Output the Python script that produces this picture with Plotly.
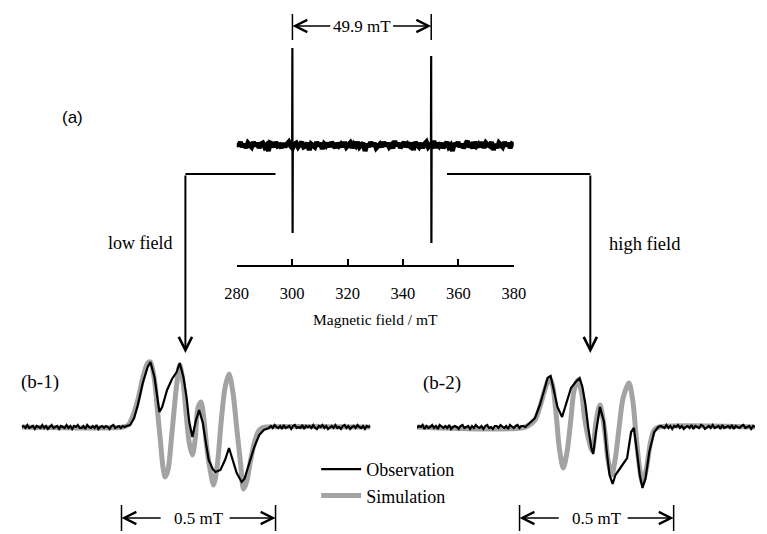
import numpy as np
import plotly.graph_objects as go

W, H = 767, 534
SERIF = "Liberation Serif, Times New Roman, serif"
SANS = "Liberation Sans, Arial, sans-serif"

# ---------------- data ----------------
# (a) full-field spectrum, field in mT, intensity in a.u.
a_field_start, a_field_end = 280, 380
a_noise = [2, -1, 3, -2, 1, -3, 2, 0, -2, 3,
           -1, 2, -3, 1, 2, -2, 0, -6, 2, 1,
           -2, 3, -1, 0, -3, 2, -2, 1, 3, -1,
           -3, 1, 2, -2, 0, 3, -2, -1, 2, -5,
           1, 0, -2, 3, -1, 2, -4, 1, -1, 2,
           -2, 3, 0, -3, 2, -1, 1, -2, 3, -2,
           0, 2, -3, 1, -1, 3, -2, 0, 2, -6,
           1, -2, 3, -1, 2, -3, 0, 1, -2, 3,
           -1, 2, -2, 0, -3, 4, -1, 2, -3, 1,
           3, -2, 1, -1, 2, -5, 3, 0, -2, 2,
           -3, 1, 3, -2, 0, -1, 4, -3, 2, -1,
           2, -3, 1, 3, -2, 0, -6, 2, -1, 3,
           -2, 1, -3, 2, 4, -2, 0, -3, 3, -1,
           1, -2, 3, -3, 2, 0, -1, 3, -5, 1,
           -3, 2, 0, -2, 3, -1, 2, -3, 1, 0]
a_low_line_x = [300.0, 300.08, 300.16, 300.24]
a_low_line_y = [0, 97, -88, 0]
a_high_line_x = [350.1, 350.18, 350.26, 350.34]
a_high_line_y = [0, 89, -98, 0]
a_ticks = [280, 300, 320, 340, 360, 380]
a_split_low, a_split_high = 300.1, 350.2   # 49.9 mT

# (b-1) low-field line, relative field in mT
b1_range = [-0.324, 0.808]
b1_left_end, b1_right_start = 0.010, 0.485
b1_obs_left_noise = [0, 1, -1, 2, -1, 0, 1, -2, 1, 0,
                     -1, 2, -1, 1, -2, 0, 2, -1, 0, 1,
                     -2, 1, 0, -1, 2, -1, 1, -2, 1, 0,
                     2, -1, -1, 1, -2, 2, 0, -1, 1, -1,
                     2, -2, 0, 1, -1, 1, 0, -2, 1, 2,
                     -1, 0, 1, -1, 1, 0]
b1_obs_x = [0.016, 0.028, 0.041, 0.053, 0.069, 0.085, 0.094, 0.107, 0.116, 0.123,
            0.132, 0.148, 0.164, 0.179, 0.189, 0.201, 0.211, 0.220, 0.230, 0.242,
            0.252, 0.264, 0.274, 0.283, 0.296, 0.305, 0.321, 0.336, 0.349, 0.362,
            0.374, 0.390, 0.399, 0.415, 0.431, 0.447, 0.462, 0.478]
b1_obs_y = [1, 2, 9, 22, 44, 60, 65, 50, 27, 15,
            20, 37, 48, 55, 64, 50, 30, 5, -10, 7,
            17, 4, -16, -33, -42, -45, -43, -33, -21, -33,
            -46, -55, -52, -36, -20, -8, -3, -1]
b1_obs_right_noise = [1, -1, 2, 0, -1, 1, -2, 2, -1, 0,
                      1, -2, 1, 2, -1, 0, -1, 2, -2, 1,
                      0, 1, -1, 2, -1, -2, 1, 0, 2, -1,
                      1, -2, 0, 1, -1, 2, -1, 0, -2, 1,
                      2, -1, 1, -2, 0, 1, -1, 2, 0, -1,
                      1, -2, 1, 0, 1]
b1_sim_x = [-0.324, 0.006, 0.022, 0.038, 0.053, 0.069, 0.085, 0.094, 0.107, 0.116,
            0.126, 0.135, 0.142, 0.151, 0.164, 0.179, 0.189, 0.201, 0.211, 0.220,
            0.230, 0.239, 0.248, 0.258, 0.267, 0.277, 0.289, 0.299, 0.311, 0.324,
            0.336, 0.349, 0.362, 0.374, 0.387, 0.396, 0.406, 0.418, 0.431, 0.443,
            0.456, 0.469, 0.808]
b1_sim_y = [0, 0, 2, 12, 27, 49, 64, 65, 47, 19,
            -13, -41, -50, -43, -5, 42, 62, 42, 9, -16,
            -28, -13, 19, 25, 9, -21, -45, -58, -38, 7,
            39, 53, 34, -1, -38, -62, -55, -35, -16, -5,
            -1, 0, 0]

# (b-2) high-field line, relative field in mT
b2_range = [-0.333, 0.764]
b2_left_end, b2_right_start = 0.012, 0.458
b2_obs_left_noise = [-1, 1, 0, 2, -2, 1, -1, 0, 2, -1,
                     1, -2, 2, 0, -1, 1, -1, 2, -2, 0,
                     1, 0, -2, 1, 2, -1, 0, 1, -2, 1,
                     -1, 2, 0, -1, 1, -2, 1, 2, -1, 0,
                     -2, 1, 1, -1, 2, 0, -1, 1, -2, 2,
                     0, -1, 1, 2, -1, 1, 1]
b2_obs_x = [0.019, 0.050, 0.066, 0.082, 0.091, 0.101, 0.110, 0.123, 0.138, 0.151,
            0.167, 0.182, 0.195, 0.204, 0.214, 0.223, 0.233, 0.239, 0.248, 0.261,
            0.274, 0.283, 0.292, 0.302, 0.311, 0.327, 0.349, 0.362, 0.371, 0.381,
            0.390, 0.399, 0.409, 0.421, 0.437, 0.450]
b2_obs_y = [0, 9, 22, 39, 49, 51, 39, 20, 10, 22,
            39, 45, 49, 40, 22, -1, -21, -27, -5, 20,
            5, -25, -48, -57, -48, -41, -31, -5, -1, -25,
            -48, -61, -51, -25, -5, 0]
b2_obs_right_noise = [1, 0, -1, 2, -1, 1, -2, 1, 0, 2,
                      -1, 1, -2, 0, 1, -1, 2, -2, 1, 0,
                      -1, 2, 1, -2, 0, 1, -1, 2, -1, 0,
                      1, -2, 2, -1, 0, 1, -1, 2, -2, 1,
                      0, -1, 1, 2, -1, 0, 1, -2, 1, 0]
b2_sim_x = [-0.333, 0.019, 0.050, 0.066, 0.082, 0.097, 0.107, 0.119, 0.129, 0.142,
            0.154, 0.167, 0.176, 0.189, 0.201, 0.211, 0.223, 0.236, 0.248, 0.261,
            0.277, 0.286, 0.299, 0.311, 0.324, 0.336, 0.355, 0.368, 0.377, 0.387,
            0.399, 0.412, 0.425, 0.437, 0.453, 0.764]
b2_sim_y = [0, 0, 7, 20, 37, 49, 42, 12, -21, -41,
            -25, 9, 35, 47, 35, 9, -11, -24, 5, 22,
            -5, -31, -48, -31, 2, 29, 44, 25, -5, -35,
            -56, -41, -15, -3, 0, 0]
scale_bar_mT = 0.5

# ---------------- helpers ----------------
def pxx(x):
    return x / W

def pxy(y):
    return 1 - y / H

def observed(left_start, left_end, left_noise, core_x, core_y,
             right_start, right_end, right_noise):
    xl = np.linspace(left_start, left_end, len(left_noise))
    xr = np.linspace(right_start, right_end, len(right_noise))
    x = np.concatenate([xl, core_x, xr])
    y = np.concatenate([left_noise, core_y, right_noise])
    return x, y

a_base_x = np.linspace(a_field_start, a_field_end, len(a_noise))

b1x, b1y = observed(b1_range[0], b1_left_end, b1_obs_left_noise, b1_obs_x, b1_obs_y,
                    b1_right_start, b1_range[1], b1_obs_right_noise)
b2x, b2y = observed(b2_range[0], b2_left_end, b2_obs_left_noise, b2_obs_x, b2_obs_y,
                    b2_right_start, b2_range[1], b2_obs_right_noise)

GRAY = "#a3a3a3"

fig = go.Figure()
fig.add_trace(go.Scatter(x=a_base_x, y=a_noise, mode="lines", xaxis="x", yaxis="y",
                         line=dict(color="black", width=5), showlegend=False,
                         hoverinfo="skip"))
for lx, ly in ((a_low_line_x, a_low_line_y), (a_high_line_x, a_high_line_y)):
    fig.add_trace(go.Scatter(x=lx, y=ly, mode="lines", xaxis="x", yaxis="y",
                             line=dict(color="black", width=2.2), showlegend=False,
                             hoverinfo="skip"))
fig.add_trace(go.Scatter(x=b1_sim_x, y=b1_sim_y, mode="lines", xaxis="x2", yaxis="y2",
                         line=dict(color=GRAY, width=5, shape="spline", smoothing=0.8),
                         name="Simulation", legendrank=2, showlegend=True))
fig.add_trace(go.Scatter(x=b1x, y=b1y, mode="lines", xaxis="x2", yaxis="y2",
                         line=dict(color="black", width=2.2),
                         name="Observation", legendrank=1, showlegend=True))
fig.add_trace(go.Scatter(x=b2_sim_x, y=b2_sim_y, mode="lines", xaxis="x3", yaxis="y3",
                         line=dict(color=GRAY, width=5, shape="spline", smoothing=0.8),
                         name="Simulation", showlegend=False))
fig.add_trace(go.Scatter(x=b2x, y=b2y, mode="lines", xaxis="x3", yaxis="y3",
                         line=dict(color="black", width=2.2),
                         name="Observation", showlegend=False))

hidden = dict(visible=False, showgrid=False, zeroline=False)
fig.update_layout(
    width=W, height=H, margin=dict(l=0, r=0, t=0, b=0),
    paper_bgcolor="white", plot_bgcolor="rgba(0,0,0,0)",
    font=dict(family=SERIF, color="black", size=16),
    xaxis=dict(domain=[232 / W, 518 / W], range=[a_field_start, a_field_end], anchor="y",
               showline=True, linewidth=2, linecolor="black", mirror=False,
               ticks="inside", ticklen=6, tickwidth=2, tickcolor="black",
               tickvals=a_ticks, ticktext=[str(t) for t in a_ticks],
               tickfont=dict(family=SERIF, size=16.5), ticklabelstandoff=12,
               showgrid=False, zeroline=False,
               title=dict(text="Magnetic field / mT", font=dict(family=SERIF, size=15.5),
                          standoff=12)),
    yaxis=dict(domain=[1 - 265 / H, 1], range=[-120, 145], anchor="x", **hidden),
    xaxis2=dict(domain=[10 / W, 370 / W], range=b1_range, anchor="y2", **hidden),
    yaxis2=dict(domain=[0, 1 - 340 / H], range=[-107, 87], anchor="x2", **hidden),
    xaxis3=dict(domain=[418 / W, 1], range=b2_range, anchor="y3", **hidden),
    yaxis3=dict(domain=[0, 1 - 340 / H], range=[-107, 87], anchor="x3", **hidden),
    legend=dict(x=314 / W, y=pxy(451), xanchor="left", yanchor="top",
                bgcolor="rgba(0,0,0,0)", font=dict(family=SERIF, size=18),
                tracegroupgap=0, itemwidth=40),
)

shapes = []
# connector lines
shapes.append(dict(type="line", xref="paper", yref="paper",
                   x0=pxx(179), x1=pxx(272), y0=pxy(174), y1=pxy(174),
                   line=dict(color="black", width=2)))
shapes.append(dict(type="line", xref="paper", yref="paper",
                   x0=pxx(449), x1=pxx(597), y0=pxy(174), y1=pxy(174),
                   line=dict(color="black", width=2)))
# 49.9 mT end ticks
for xv in (a_split_low, a_split_high):
    shapes.append(dict(type="line", xref="x", yref="y", x0=xv, x1=xv, y0=105, y1=131,
                       line=dict(color="black", width=1.5)))
# 0.5 mT end ticks
for xr, yr in (("x2", "y2"), ("x3", "y3")):
    for xv in (0, scale_bar_mT):
        shapes.append(dict(type="line", xref=xr, yref=yr, x0=xv, x1=xv, y0=-78, y1=-104,
                           line=dict(color="black", width=1.5)))

ann = []
def arrow(xr, yr, xh, yh, xt, yt, w=1.5):
    return dict(xref=xr, yref=yr, axref=xr, ayref=yr, x=xh, y=yh, ax=xt, ay=yt,
                text="", showarrow=True, arrowhead=5, arrowsize=1.6, arrowwidth=w,
                arrowcolor="black", standoff=0)

# 49.9 mT arrows and label
ann.append(arrow("x", "y", a_split_low, 119, 314.3, 119))
ann.append(arrow("x", "y", a_split_high, 119, 335.9, 119))
ann.append(dict(xref="x", yref="y", x=(a_split_low + a_split_high) / 2, y=119,
                text="49.9 mT", showarrow=False, font=dict(family=SERIF, size=17)))
# 0.5 mT bars
for xr, yr in (("x2", "y2"), ("x3", "y3")):
    ann.append(arrow(xr, yr, 0, -91, 0.132, -91))
    ann.append(arrow(xr, yr, scale_bar_mT, -91, 0.346, -91))
    ann.append(dict(xref=xr, yref=yr, x=scale_bar_mT / 2, y=-91, text="0.5 mT",
                    showarrow=False, font=dict(family=SERIF, size=17)))
# connector down arrows
for xp in (179, 597):
    ann.append(dict(xref="paper", yref="paper", x=pxx(xp), y=pxy(353), ax=0, ay=-179,
                    text="", showarrow=True, arrowhead=5, arrowsize=1.3, arrowwidth=2,
                    arrowcolor="black", standoff=0))
# labels
ann.append(dict(xref="paper", yref="paper", x=pxx(50), y=pxy(106), text="(a)",
                showarrow=False, xanchor="left", font=dict(family=SANS, size=17)))
ann.append(dict(xref="paper", yref="paper", x=pxx(97), y=pxy(243), text="low field",
                showarrow=False, xanchor="left", font=dict(family=SERIF, size=18)))
ann.append(dict(xref="paper", yref="paper", x=pxx(614), y=pxy(244), text="high field",
                showarrow=False, xanchor="left", font=dict(family=SERIF, size=18.5)))
ann.append(dict(xref="paper", yref="paper", x=pxx(7), y=pxy(395), text="(b-1)",
                showarrow=False, xanchor="left", font=dict(family=SERIF, size=19)))
ann.append(dict(xref="paper", yref="paper", x=pxx(422), y=pxy(396), text="(b-2)",
                showarrow=False, xanchor="left", font=dict(family=SERIF, size=19)))

fig.update_layout(shapes=shapes, annotations=ann)
fig.write_html("out.html", config={"displayModeBar": False},
               post_script="document.body.style.margin='0';document.body.style.overflow='hidden';")
